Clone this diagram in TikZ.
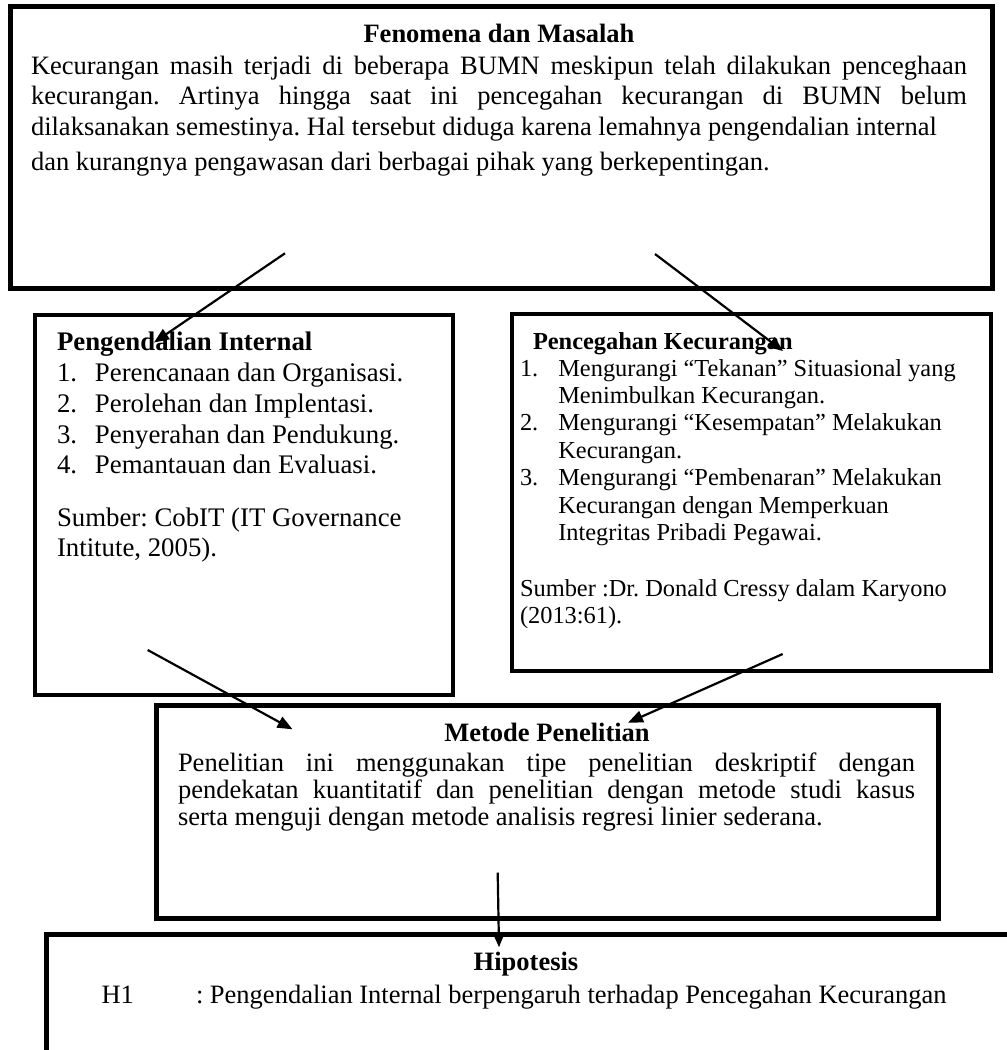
\documentclass[tikz,border=0pt]{standalone}
\usepackage{fontspec}
\setmainfont{Liberation Serif}
\usetikzlibrary{arrows.meta}
\tikzset{
  box/.style={draw, line width=5pt, inner sep=0pt, outer sep=0pt, anchor=north west},
  txt/.style={inner sep=0pt, outer sep=0pt, anchor=base west},
  big/.style={font={\fontsize{26.5}{#1}\selectfont}},
  big/.default=30.6,
  mid/.style={font={\fontsize{26.8}{30.7}\selectfont}},
  small/.style={font={\fontsize{24.4}{27.4}\selectfont}},
  conn/.style={line width=2.2pt, -{Triangle[length=15pt,width=12pt]}},
}
\frenchspacing
\begin{document}
\begin{tikzpicture}[x=1pt,y=-1pt]
\useasboundingbox (0,0) rectangle (1007,1050);
\fill[white] (0,0) rectangle (1007,1050);
\clip (0,0) rectangle (1007,1050);
\hyphenpenalty=10000 \exhyphenpenalty=10000 \tolerance=10000
% boxes
\node[box, minimum width=981.5pt, minimum height=281.8pt] (top) at (10.5,6.7) {};
\node[box, line width=4.6pt, minimum width=418pt, minimum height=380pt] (left) at (35,315) {};
\node[box, line width=4.7pt, minimum width=479pt, minimum height=357pt] (right) at (512,314) {};
\node[box, minimum width=782.5pt, minimum height=213pt] (mid) at (156,705) {};
\node[box, minimum width=974pt, minimum height=150pt] (hyp) at (46,934) {};
% top text
\node[txt, big, anchor=base] (toptitle) at (499,42.7) {\bfseries Fenomena dan Masalah};
\node[txt, big=30.5, text width=936pt, align=justify] (toptext) at (31,74) {%
Kecurangan masih terjadi di beberapa BUMN meskipun telah dilakukan penceghaan\linebreak
kecurangan. Artinya hingga saat ini pencegahan kecurangan di BUMN belum\linebreak
dilaksanakan semestinya. Hal tersebut diduga karena lemahnya pengendalian internal\\[5pt]
dan kurangnya pengawasan dari berbagai pihak yang berkepentingan.\par};
% left box text
\node[txt, mid] (lefttitle) at (57,350.7) {\bfseries Pengendalian Internal};
\node[txt, mid, text width=390pt, align=flush left] (leftlist) at (57,381.7) {%
\makebox[38pt][l]{1.}Perencanaan dan Organisasi.\\
\makebox[38pt][l]{2.}Perolehan dan Implentasi.\\
\makebox[38pt][l]{3.}Penyerahan dan Pendukung.\\
\makebox[38pt][l]{4.}Pemantauan dan Evaluasi.\par};
\node[txt, mid, text width=390pt, align=flush left] (leftsrc) at (57,526) {%
Sumber: CobIT (IT Governance\\ Intitute, 2005).\par};
% right box text
\node[txt, small] (righttitle) at (533,349.3) {\bfseries Pencegahan Kecurangan};
\node[txt, small, text width=465pt, align=flush left] (rightlist) at (520,376) {%
\makebox[38.3pt][l]{1.}Mengurangi “Tekanan” Situasional yang\\
\hspace*{38.3pt}Menimbulkan Kecurangan.\\
\makebox[38.3pt][l]{2.}Mengurangi “Kesempatan” Melakukan\\
\hspace*{38.3pt}Kecurangan.\\
\makebox[38.3pt][l]{3.}Mengurangi “Pembenaran” Melakukan\\
\hspace*{38.3pt}Kecurangan dengan Memperkuan\\
\hspace*{38.3pt}Integritas Pribadi Pegawai.\par};
\node[txt, small, text width=465pt, align=flush left] (rightsrc) at (520,596) {%
Sumber :Dr. Donald Cressy dalam Karyono\\ (2013:61).\par};
% middle box text
\node[txt, big, anchor=base] (midtitle) at (547,741.7) {\bfseries Metode Penelitian};
\node[txt, big=26.7, text width=737pt, align=justify] (midtext) at (178,771.7) {%
Penelitian ini menggunakan tipe penelitian deskriptif dengan\linebreak
pendekatan kuantitatif dan penelitian dengan metode studi kasus\linebreak
serta menguji dengan metode analisis regresi linier sederana.\par};
% hypothesis text
\node[txt, big, anchor=base] (hyptitle) at (526,970.7) {\bfseries Hipotesis};
\node[txt, big] (hypkey) at (101.5,1003.3) {H1};
\node[txt, big] (hyptext) at (196,1003.3) {: Pengendalian Internal berpengaruh terhadap Pencegahan Kecurangan};
% connectors
\coordinate (a1s) at (285,253.3);   \coordinate (a1e) at (154,342.5);
\coordinate (a2s) at (655,254);     \coordinate (a2e) at (783,351);
\coordinate (a3s) at (147.7,650);   \coordinate (a3e) at (292.5,729.3);
\coordinate (a4s) at (782.7,654);   \coordinate (a4e) at (628,722.7);
\coordinate (a5s) at (497.7,872.7); \coordinate (a5e) at (499,947.3);
\draw[conn] (a1s) -- (a1e);
\draw[conn] (a2s) -- (a2e);
\draw[conn] (a3s) -- (a3e);
\draw[conn] (a4s) -- (a4e);
\draw[conn] (a5s) -- (a5e);
\end{tikzpicture}
\end{document}
